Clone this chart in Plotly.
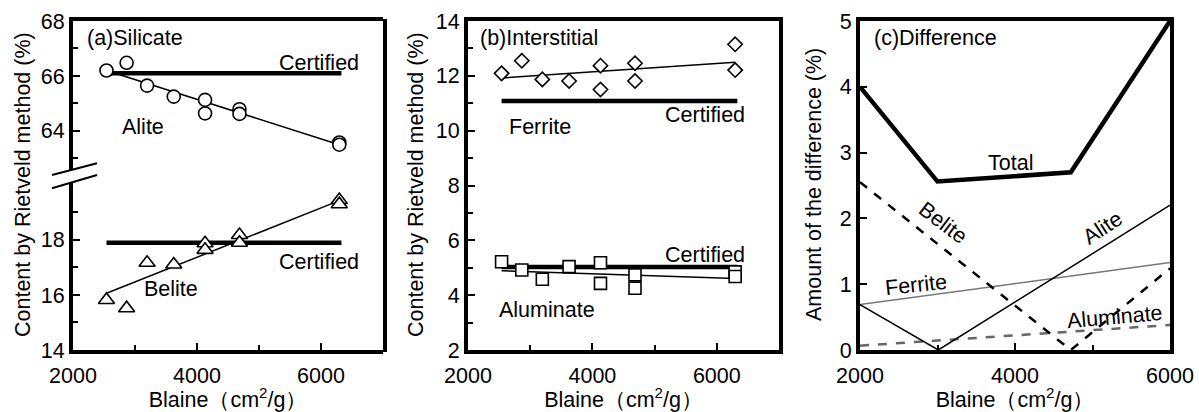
import plotly.graph_objects as go

W, H = 1199, 412

# ---------------- data ----------------
blaine = [2540, 2865, 3195, 3625, 4130, 4130, 4685, 4685, 6295, 6295]
alite = [66.2, 66.48, 65.65, 65.25, 65.13, 64.64, 64.79, 64.62, 63.58, 63.5]
belite = [15.82, 15.52, 17.17, 17.11, 17.88, 17.64, 18.18, 17.9, 19.45, 19.3]
ferrite = [12.09, 12.55, 11.87, 11.81, 12.37, 11.5, 12.46, 11.81, 13.15, 12.21]
aluminate = [5.22, 4.92, 4.58, 5.04, 5.18, 4.43, 4.74, 4.25, 4.85, 4.68]

fit_x = [2540, 6295]
alite_fit = [66.2, 63.5]
belite_fit = [16.06, 19.43]
ferrite_fit = [11.92, 12.5]
aluminate_fit = [4.89, 4.61]

cert_x = [2540, 6330]
alite_cert = 66.1
belite_cert = 17.9
ferrite_cert = 11.08
aluminate_cert = 5.03

total_x = [2000, 3000, 4720, 6000]
total_y = [4.0, 2.56, 2.70, 5.0]
alite_d_x = [2000, 3010, 6000]
alite_d_y = [0.69, 0.0, 2.2]
belite_d_x = [2000, 4720, 6000]
belite_d_y = [2.55, 0.0, 1.24]
ferrite_d_x = [2000, 6000]
ferrite_d_y = [0.69, 1.33]
aluminate_d_x = [2000, 6000]
aluminate_d_y = [0.065, 0.38]

# ---------------- helpers ----------------
def px(x):
    return x / W

def py(y):
    return 1 - y / H

FONT = "Arial, Liberation Sans, sans-serif"
TF = dict(family=FONT, size=21.5, color="black")
AF = dict(family=FONT, size=21.5, color="black")

fig = go.Figure()

def marker(symbol, size):
    return dict(symbol=symbol, size=size, color="white",
                line=dict(color="black", width=1.6))

# panel (a) upper: alite
fig.add_trace(go.Scatter(x=cert_x, y=[alite_cert] * 2, mode="lines",
                         line=dict(color="black", width=4.5), xaxis="x2", yaxis="y2"))
fig.add_trace(go.Scatter(x=fit_x, y=alite_fit, mode="lines",
                         line=dict(color="black", width=1.5), xaxis="x2", yaxis="y2"))
fig.add_trace(go.Scatter(x=blaine, y=alite, mode="markers",
                         marker=marker("circle", 13), xaxis="x2", yaxis="y2"))
# panel (a) lower: belite
fig.add_trace(go.Scatter(x=cert_x, y=[belite_cert] * 2, mode="lines",
                         line=dict(color="black", width=4.5), xaxis="x", yaxis="y"))
fig.add_trace(go.Scatter(x=fit_x, y=belite_fit, mode="lines",
                         line=dict(color="black", width=1.5), xaxis="x", yaxis="y"))
fig.add_trace(go.Scatter(x=blaine, y=belite, mode="markers",
                         marker=marker("triangle-up", 14), xaxis="x", yaxis="y"))
# panel (b)
for cert, fit, vals, sym, sz in [
    (ferrite_cert, ferrite_fit, ferrite, "diamond", 11),
    (aluminate_cert, aluminate_fit, aluminate, "square", 12),
]:
    fig.add_trace(go.Scatter(x=cert_x, y=[cert] * 2, mode="lines",
                             line=dict(color="black", width=4.5), xaxis="x3", yaxis="y3"))
    fig.add_trace(go.Scatter(x=fit_x, y=fit, mode="lines",
                             line=dict(color="black", width=1.5), xaxis="x3", yaxis="y3"))
    fig.add_trace(go.Scatter(x=blaine, y=vals, mode="markers",
                             marker=marker(sym, sz), xaxis="x3", yaxis="y3"))
# panel (c)
fig.add_trace(go.Scatter(x=aluminate_d_x, y=aluminate_d_y, mode="lines",
                         line=dict(color="#666666", width=2.5, dash="dash"), xaxis="x4", yaxis="y4"))
fig.add_trace(go.Scatter(x=ferrite_d_x, y=ferrite_d_y, mode="lines",
                         line=dict(color="#777777", width=1.5), xaxis="x4", yaxis="y4"))
fig.add_trace(go.Scatter(x=alite_d_x, y=alite_d_y, mode="lines",
                         line=dict(color="black", width=1.5), xaxis="x4", yaxis="y4"))
fig.add_trace(go.Scatter(x=belite_d_x, y=belite_d_y, mode="lines",
                         line=dict(color="black", width=2.5, dash="dash"), xaxis="x4", yaxis="y4"))
fig.add_trace(go.Scatter(x=total_x, y=total_y, mode="lines",
                         line=dict(color="black", width=4.5), xaxis="x4", yaxis="y4"))

# ---------------- axes ----------------
common = dict(showline=True, linecolor="black", linewidth=4, ticks="inside",
              tickcolor="black", tickwidth=1.5, ticklen=7, showgrid=False,
              zeroline=False, tickfont=TF)

xa = dict(common, range=[2000, 7000], tickvals=[2000, 4000, 6000], ticklabelstandoff=3,
          minor=dict(tickvals=[3000, 5000], ticks="inside", ticklen=5,
                     tickcolor="black", tickwidth=1.5, showgrid=False),
          title=dict(text="Blaine（cm<sup>2</sup>/g）", font=TF, standoff=4))
xc = dict(xa, range=[2000, 6000])

dom_a = [px(73), px(383)]
dom_b = [px(468), px(779)]
dom_c = [px(860), px(1170)]
y_full = [py(350), py(21)]

fig.update_layout(
    width=W, height=H,
    margin=dict(l=0, r=0, t=0, b=0, autoexpand=False),
    paper_bgcolor="white", plot_bgcolor="white",
    showlegend=False,
    font=TF,
    xaxis=dict(xa, domain=dom_a, anchor="y"),
    yaxis=dict(common, domain=[py(350), py(183)], range=[14, 20.07], anchor="x",
               tickvals=[14, 16, 18],
               minor=dict(tickvals=[15, 17, 19], ticks="inside", ticklen=5,
                          tickcolor="black", tickwidth=1.5, showgrid=False)),
    xaxis2=dict(showline=True, linecolor="black", linewidth=4, matches="x",
                range=[2000, 7000], domain=dom_a, anchor="y2", side="top",
                showticklabels=False, ticks="", showgrid=False, zeroline=False),
    yaxis2=dict(common, domain=[py(170), py(21)], range=[62.58, 68], anchor="x2",
                tickvals=[64, 66, 68],
                minor=dict(tickvals=[63, 65, 67], ticks="inside", ticklen=5,
                           tickcolor="black", tickwidth=1.5, showgrid=False)),
    xaxis3=dict(xa, domain=dom_b, anchor="y3", mirror=True),
    yaxis3=dict(common, domain=y_full, range=[2, 14], anchor="x3", mirror=True,
                tickvals=[2, 4, 6, 8, 10, 12, 14],
                minor=dict(tickvals=[3, 5, 7, 9, 11, 13], ticks="inside", ticklen=5,
                           tickcolor="black", tickwidth=1.5, showgrid=False)),
    xaxis4=dict(xc, domain=dom_c, anchor="y4", mirror=True),
    yaxis4=dict(common, domain=y_full, range=[0, 5], anchor="x4", mirror=True,
                tickvals=[0, 1, 2, 3, 4, 5]),
)

def ytitle(text, xpix):
    return dict(text=text, xref="paper", yref="paper", x=px(xpix), y=py(185),
                textangle=-90, showarrow=False, font=TF,
                xanchor="center", yanchor="middle")

annotations = [
    ytitle("Content by Rietveld method (%)", 23),
    ytitle("Content by Rietveld method (%)", 416),
    ytitle("Amount of the difference (%)", 814),
    dict(text="(a)Silicate", xref="x2", yref="y2", x=2193, y=67.38, xanchor="left"),
    dict(text="Certified", xref="x2", yref="y2", x=5967, y=66.47),
    dict(text="Alite", xref="x2", yref="y2", x=3124, y=64.15),
    dict(text="Certified", xref="x", yref="y", x=5967, y=17.21),
    dict(text="Belite", xref="x", yref="y", x=3585, y=16.22),
    dict(text="(b)Interstitial", xref="x3", yref="y3", x=2166, y=13.38, xanchor="left"),
    dict(text="Certified", xref="x3", yref="y3", x=5806, y=10.57),
    dict(text="Ferrite", xref="x3", yref="y3", x=3156, y=10.14),
    dict(text="Certified", xref="x3", yref="y3", x=5806, y=5.46),
    dict(text="Aluminate", xref="x3", yref="y3", x=3264, y=3.46),
    dict(text="(c)Difference", xref="x4", yref="y4", x=2151, y=4.74, xanchor="left"),
    dict(text="Total", xref="x4", yref="y4", x=3948, y=2.84),
    dict(text="Belite", xref="x4", yref="y4", x=3071, y=1.93, textangle=37),
    dict(text="Alite", xref="x4", yref="y4", x=5135, y=1.85, textangle=-33),
    dict(text="Ferrite", xref="x4", yref="y4", x=2722, y=0.99, textangle=-6),
    dict(text="Aluminate", xref="x4", yref="y4", x=5290, y=0.50, textangle=-5),
]
for a in annotations:
    a.setdefault("showarrow", False)
    a.setdefault("font", AF)
fig.update_layout(annotations=annotations)

# frame pieces and axis-break marks for panel (a)
shapes = [
    dict(type="line", xref="paper", yref="paper", x0=px(383) + 2 / W, x1=px(383) + 2 / W,
         y0=py(352), y1=py(19), line=dict(color="black", width=4)),
    dict(type="line", xref="paper", yref="paper", x0=px(52), y0=py(175),
         x1=px(97), y1=py(163.3), line=dict(color="black", width=2)),
    dict(type="line", xref="paper", yref="paper", x0=px(52), y0=py(188.3),
         x1=px(97), y1=py(175), line=dict(color="black", width=2)),
]
fig.update_layout(shapes=shapes)

fig.write_html("out.html")
